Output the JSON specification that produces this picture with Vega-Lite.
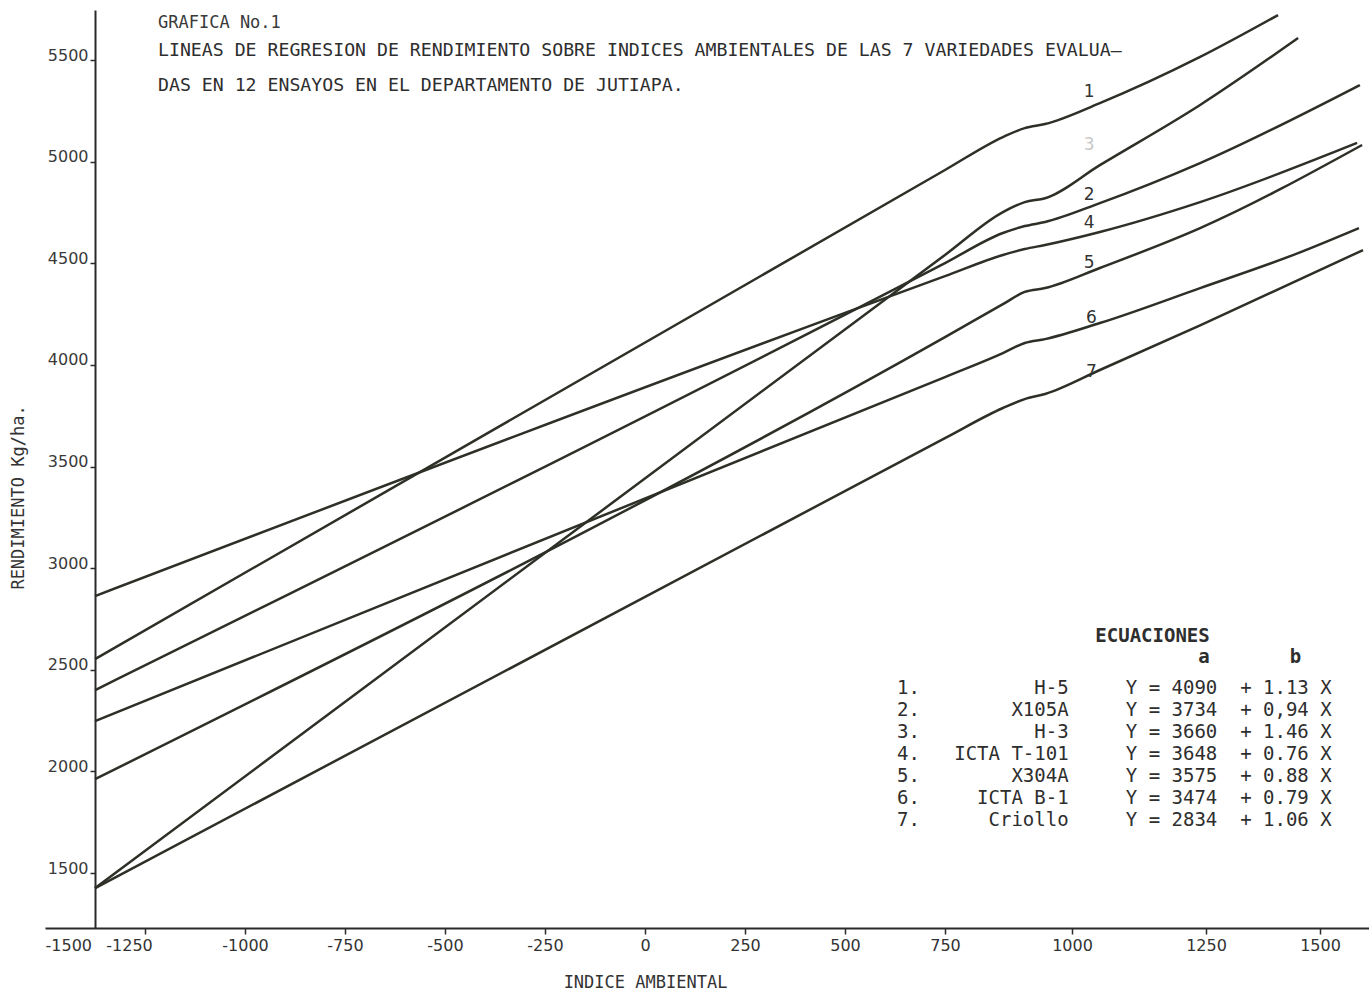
{
  "$schema": "https://vega.github.io/schema/vega-lite/v6.json",
  "width": 1324,
  "height": 918,
  "autosize": {"type": "none"},
  "padding": {"left": 45, "top": 10, "right": 0, "bottom": 62},
  "background": "white",
  "config": {"view": {"stroke": null}},
  "title": {
    "text": "GRAFICA No.1",
    "subtitle": [
      "LINEAS DE REGRESION DE RENDIMIENTO SOBRE INDICES AMBIENTALES DE LAS 7 VARIEDADES EVALUA—",
      "DAS EN 12 ENSAYOS EN EL DEPARTAMENTO DE JUTIAPA."
    ],
    "anchor": "start",
    "frame": "group",
    "dx": 113,
    "offset": -85,
    "font": "DejaVu Sans Mono",
    "fontSize": 17,
    "fontWeight": "normal",
    "color": "#3a3a3a",
    "subtitleFont": "DejaVu Sans Mono",
    "subtitleFontSize": 18.2,
    "subtitleColor": "#2e2e2e",
    "subtitleLineHeight": 35,
    "subtitlePadding": 10
  },
  "datasets": {
    "lineas": [
      {"linea": "1", "indice": -1375, "rendimiento": 2553},
      {"linea": "1", "indice": 750, "rendimiento": 4959},
      {"linea": "1", "indice": 864, "rendimiento": 5121},
      {"linea": "1", "indice": 907, "rendimiento": 5165},
      {"linea": "1", "indice": 947, "rendimiento": 5185},
      {"linea": "1", "indice": 1052, "rendimiento": 5288},
      {"linea": "1", "indice": 1239, "rendimiento": 5515},
      {"linea": "1", "indice": 1408, "rendimiento": 5721},
      {"linea": "2", "indice": -1375, "rendimiento": 2400},
      {"linea": "2", "indice": 750, "rendimiento": 4501},
      {"linea": "2", "indice": 864, "rendimiento": 4649},
      {"linea": "2", "indice": 907, "rendimiento": 4683},
      {"linea": "2", "indice": 947, "rendimiento": 4703},
      {"linea": "2", "indice": 1052, "rendimiento": 4796},
      {"linea": "2", "indice": 1239, "rendimiento": 4993},
      {"linea": "2", "indice": 1587, "rendimiento": 5377},
      {"linea": "3", "indice": -1375, "rendimiento": 1426},
      {"linea": "3", "indice": 750, "rendimiento": 4541},
      {"linea": "3", "indice": 864, "rendimiento": 4752},
      {"linea": "3", "indice": 907, "rendimiento": 4801},
      {"linea": "3", "indice": 947, "rendimiento": 4820},
      {"linea": "3", "indice": 1052, "rendimiento": 4983},
      {"linea": "3", "indice": 1239, "rendimiento": 5279},
      {"linea": "3", "indice": 1452, "rendimiento": 5608},
      {"linea": "4", "indice": -1375, "rendimiento": 2863},
      {"linea": "4", "indice": 750, "rendimiento": 4437},
      {"linea": "4", "indice": 864, "rendimiento": 4541},
      {"linea": "4", "indice": 907, "rendimiento": 4570},
      {"linea": "4", "indice": 947, "rendimiento": 4590},
      {"linea": "4", "indice": 1052, "rendimiento": 4654},
      {"linea": "4", "indice": 1239, "rendimiento": 4801},
      {"linea": "4", "indice": 1581, "rendimiento": 5092},
      {"linea": "5", "indice": -1375, "rendimiento": 1962},
      {"linea": "5", "indice": 750, "rendimiento": 4137},
      {"linea": "5", "indice": 864, "rendimiento": 4299},
      {"linea": "5", "indice": 907, "rendimiento": 4359},
      {"linea": "5", "indice": 947, "rendimiento": 4378},
      {"linea": "5", "indice": 1052, "rendimiento": 4477},
      {"linea": "5", "indice": 1239, "rendimiento": 4673},
      {"linea": "5", "indice": 1592, "rendimiento": 5082},
      {"linea": "6", "indice": -1375, "rendimiento": 2248},
      {"linea": "6", "indice": 750, "rendimiento": 3940},
      {"linea": "6", "indice": 864, "rendimiento": 4058},
      {"linea": "6", "indice": 907, "rendimiento": 4108},
      {"linea": "6", "indice": 947, "rendimiento": 4127},
      {"linea": "6", "indice": 1052, "rendimiento": 4206},
      {"linea": "6", "indice": 1239, "rendimiento": 4378},
      {"linea": "6", "indice": 1452, "rendimiento": 4550},
      {"linea": "6", "indice": 1585, "rendimiento": 4673},
      {"linea": "7", "indice": -1375, "rendimiento": 1426},
      {"linea": "7", "indice": 750, "rendimiento": 3640},
      {"linea": "7", "indice": 864, "rendimiento": 3788},
      {"linea": "7", "indice": 907, "rendimiento": 3832},
      {"linea": "7", "indice": 947, "rendimiento": 3857},
      {"linea": "7", "indice": 1052, "rendimiento": 3975},
      {"linea": "7", "indice": 1239, "rendimiento": 4195},
      {"linea": "7", "indice": 1594, "rendimiento": 4565}
    ],
    "ecuaciones": [
      {"linea": "1", "variedad": "H-5", "a": 4090, "b": 1.13, "leyenda": "1.\u00a0\u00a0\u00a0\u00a0\u00a0\u00a0\u00a0\u00a0\u00a0\u00a0H-5\u00a0\u00a0\u00a0\u00a0\u00a0Y\u00a0=\u00a04090\u00a0\u00a0+\u00a01.13\u00a0X"},
      {"linea": "2", "variedad": "X105A", "a": 3734, "b": 0.94, "leyenda": "2.\u00a0\u00a0\u00a0\u00a0\u00a0\u00a0\u00a0\u00a0X105A\u00a0\u00a0\u00a0\u00a0\u00a0Y\u00a0=\u00a03734\u00a0\u00a0+\u00a00,94\u00a0X"},
      {"linea": "3", "variedad": "H-3", "a": 3660, "b": 1.46, "leyenda": "3.\u00a0\u00a0\u00a0\u00a0\u00a0\u00a0\u00a0\u00a0\u00a0\u00a0H-3\u00a0\u00a0\u00a0\u00a0\u00a0Y\u00a0=\u00a03660\u00a0\u00a0+\u00a01.46\u00a0X"},
      {"linea": "4", "variedad": "ICTA T-101", "a": 3648, "b": 0.76, "leyenda": "4.\u00a0\u00a0\u00a0ICTA\u00a0T-101\u00a0\u00a0\u00a0\u00a0\u00a0Y\u00a0=\u00a03648\u00a0\u00a0+\u00a00.76\u00a0X"},
      {"linea": "5", "variedad": "X304A", "a": 3575, "b": 0.88, "leyenda": "5.\u00a0\u00a0\u00a0\u00a0\u00a0\u00a0\u00a0\u00a0X304A\u00a0\u00a0\u00a0\u00a0\u00a0Y\u00a0=\u00a03575\u00a0\u00a0+\u00a00.88\u00a0X"},
      {"linea": "6", "variedad": "ICTA B-1", "a": 3474, "b": 0.79, "leyenda": "6.\u00a0\u00a0\u00a0\u00a0\u00a0ICTA\u00a0B-1\u00a0\u00a0\u00a0\u00a0\u00a0Y\u00a0=\u00a03474\u00a0\u00a0+\u00a00.79\u00a0X"},
      {"linea": "7", "variedad": "Criollo", "a": 2834, "b": 1.06, "leyenda": "7.\u00a0\u00a0\u00a0\u00a0\u00a0\u00a0Criollo\u00a0\u00a0\u00a0\u00a0\u00a0Y\u00a0=\u00a02834\u00a0\u00a0+\u00a01.06\u00a0X"}
    ],
    "etiquetas": [
      {"linea": "1", "indice": 1032, "rendimiento": 5343},
      {"linea": "3", "indice": 1032, "rendimiento": 5082},
      {"linea": "2", "indice": 1032, "rendimiento": 4836},
      {"linea": "4", "indice": 1032, "rendimiento": 4698},
      {"linea": "5", "indice": 1032, "rendimiento": 4501},
      {"linea": "6", "indice": 1036, "rendimiento": 4231},
      {"linea": "7", "indice": 1036, "rendimiento": 3965}
    ]
  },
  "encoding": {
    "x": {
      "field": "indice",
      "type": "quantitative",
      "scale": {
        "domain": [-1500, 750, 1000, 1250, 1500, 1607],
        "range": [0, 900, 1027, 1161, 1275, 1324],
        "nice": false,
        "zero": false
      },
      "axis": {
        "title": "INDICE AMBIENTAL",
        "values": [-1500, -1250, -1000, -750, -500, -250, 0, 250, 500, 750, 1000, 1250, 1500],
        "labelExpr": "'' + datum.value",
        "grid": false,
        "labelFlush": false,
        "labelOverlap": false,
        "labelAlign": {"condition": {"test": "datum.value === -1500", "value": "left"}, "value": "center"},
        "labelOffset": {"condition": {"test": "datum.value === -1250", "value": -16}, "value": 0},
        "tickOpacity": {"condition": {"test": "datum.value === -1500", "value": 0}, "value": 1},
        "domainColor": "#2a2a2a",
        "domainWidth": 2,
        "tickColor": "#2a2a2a",
        "tickWidth": 1.5,
        "tickSize": 6,
        "labelFont": "DejaVu Sans",
        "labelFontSize": 16,
        "labelColor": "#333333",
        "labelPadding": 3,
        "titleFont": "DejaVu Sans Mono",
        "titleFontSize": 17,
        "titleFontWeight": "normal",
        "titleColor": "#333333",
        "titleX": 600,
        "titleY": 54,
        "titleBaseline": "middle"
      }
    },
    "y": {
      "field": "rendimiento",
      "type": "quantitative",
      "scale": {"domain": [1230, 5746], "nice": false, "zero": false},
      "axis": {
        "title": "RENDIMIENTO Kg/ha.",
        "values": [1500, 2000, 2500, 3000, 3500, 4000, 4500, 5000, 5500],
        "labelExpr": "'' + datum.value",
        "offset": -50,
        "grid": false,
        "domainColor": "#2a2a2a",
        "domainWidth": 2,
        "tickColor": "#2a2a2a",
        "tickWidth": 1.5,
        "tickSize": 5,
        "labelFont": "DejaVu Sans",
        "labelFontSize": 16,
        "labelColor": "#3a3a3a",
        "labelPadding": 2,
        "labelBaseline": "alphabetic",
        "titleFont": "DejaVu Sans Mono",
        "titleFontSize": 17,
        "titleFontWeight": "normal",
        "titleColor": "#333333",
        "titleX": -77,
        "titleY": 487,
        "titleBaseline": "middle"
      }
    }
  },
  "layer": [
    {
      "data": {"name": "lineas"},
      "transform": [
        {"lookup": "linea", "from": {"data": {"name": "ecuaciones"}, "key": "linea", "fields": ["leyenda"]}}
      ],
      "mark": {"type": "line", "strokeWidth": 2.5, "interpolate": "monotone"},
      "encoding": {
        "stroke": {
          "field": "leyenda",
          "type": "nominal",
          "scale": {"range": ["#2d3027"]},
          "legend": {
            "orient": "none",
            "legendX": 833,
            "legendY": 617,
            "title": [
              "\u200b\u00a0\u00a0\u00a0\u00a0\u00a0\u00a0\u00a0\u00a0\u00a0\u00a0\u00a0\u00a0\u00a0\u00a0\u00a0\u00a0\u00a0\u00a0\u00a0ECUACIONES",
              "\u200b\u00a0\u00a0\u00a0\u00a0\u00a0\u00a0\u00a0\u00a0\u00a0\u00a0\u00a0\u00a0\u00a0\u00a0\u00a0\u00a0\u00a0\u00a0\u00a0\u00a0\u00a0\u00a0\u00a0\u00a0\u00a0\u00a0\u00a0\u00a0a\u00a0\u00a0\u00a0\u00a0\u00a0\u00a0\u00a0b"
            ],
            "titleFont": "DejaVu Sans Mono",
            "titleFontSize": 19,
            "titleFontWeight": "bold",
            "titleColor": "#2e2e2e",
            "titleLineHeight": 21,
            "titlePadding": 11,
            "titleLimit": 700,
            "labelFont": "DejaVu Sans Mono",
            "labelFontSize": 19,
            "labelColor": "#2e2e2e",
            "labelLimit": 700,
            "labelOffset": 0,
            "symbolSize": 0,
            "symbolOpacity": 0,
            "symbolStrokeWidth": 0,
            "rowPadding": 2,
            "padding": 0
          }
        }
      }
    },
    {
      "data": {"name": "etiquetas"},
      "mark": {"type": "text", "font": "DejaVu Sans", "fontSize": 17, "align": "center", "baseline": "middle"},
      "encoding": {
        "text": {"field": "linea", "type": "nominal"},
        "color": {"condition": {"test": "datum.linea === '3'", "value": "#c8c8c8"}, "value": "#333333"}
      }
    }
  ]
}
